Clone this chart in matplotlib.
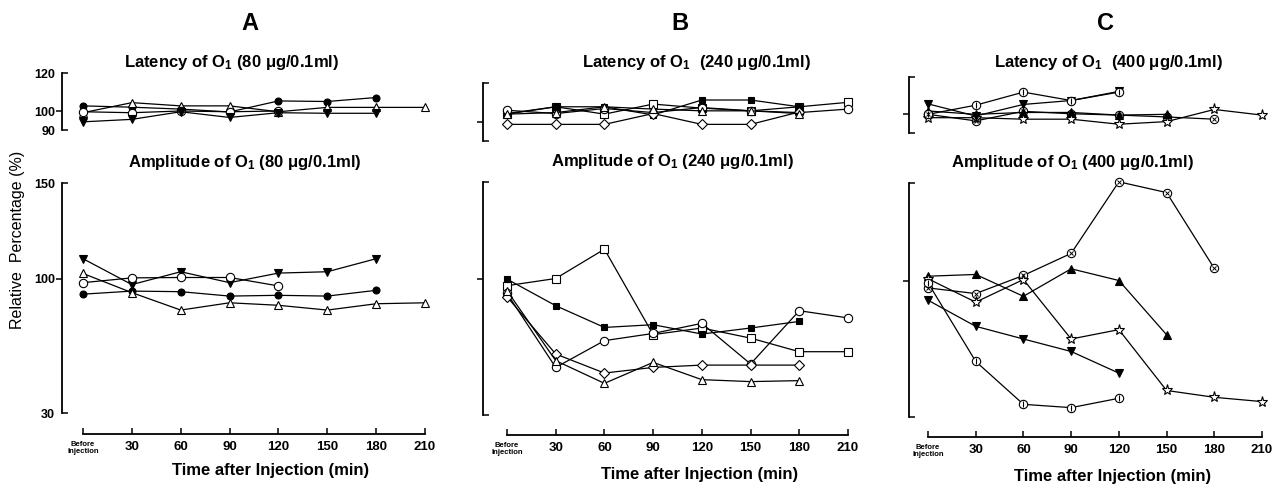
import numpy as np
from matplotlib import pyplot as plt

plt.rcParams['font.family'] = ['Liberation Sans', 'DejaVu Sans']
plt.rcParams['mathtext.fontset'] = 'custom'
plt.rcParams['mathtext.rm'] = 'Liberation Sans:bold'
plt.rcParams['mathtext.default'] = 'rm'

W, H, DPI = 1281, 487, 100

TIMES = [0, 30, 60, 90, 120, 150, 180, 210]
TICK_LABELS = ['Before\nInjection', '30', '60', '90', '120', '150', '180', '210']

# 80 ug/0.1ml
A_LAT_FILLED_CIRCLE = [102.7, 102, 101, 99.5, 105.3, 105, 107.1]
A_LAT_OPEN_TRIANGLE = [99.1, 104.4, 102.7, 102.7, 99.6, 101.9, 101.9, 101.9]
A_LAT_OPEN_CIRCLE = [99.6, 99.1, 100, 99.6, 100]
A_LAT_FILLED_DOWN = [94.3, 95.6, 99.6, 96.6, 99.1, 98.8, 98.8]

A_AMP_FILLED_DOWN = [110.5, 97, 103.7, 98, 103, 103.7, 110.5]
A_AMP_OPEN_CIRCLE = [98, 100.5, 100.7, 100.7, 96.3]
A_AMP_FILLED_CIRCLE = [92, 93.6, 93.3, 91, 91.4, 91, 94]
A_AMP_OPEN_TRIANGLE = [102.8, 92.8, 83.7, 87.5, 86.2, 83.7, 87, 87.5]

# 240 ug/0.1ml
B_LAT_OPEN_SQUARE = [104.2, 107.7, 103.9, 109.1, 107, 105.6, 107.7, 110]
B_LAT_FILLED_SQUARE = [103.9, 107.7, 107.7, 103.5, 111.2, 111.2, 107.7]
B_LAT_OPEN_CIRCLE = [105.9, 104.2, 106.8, 104.7, 107.3, 105.6, 104.7, 106.5]
B_LAT_OPEN_DIAMOND = [98.6, 98.6, 98.6, 104.2, 98.6, 98.6, 105]
B_LAT_OPEN_TRIANGLE = [103.9, 104.7, 107.7, 106.5, 105.6, 105.6, 104.2]

B_AMP_OPEN_SQUARE = [96.6, 100.3, 115.4, 71.4, 74.8, 69.6, 62.6, 62.6]
B_AMP_FILLED_SQUARE = [100, 86.3, 75.1, 76.5, 71.7, 74.8, 78.2]
B_AMP_OPEN_CIRCLE = [92.6, 54.5, 68.3, 72, 77.2, 56.3, 83.7, 80]
B_AMP_OPEN_DIAMOND = [90.9, 61.4, 51.6, 54.5, 55.7, 55.7, 55.7]
B_AMP_OPEN_TRIANGLE = [94, 58, 46.3, 57.1, 48.2, 47.2, 47.7]

# 400 ug/0.1ml
C_LAT_CROSS_CIRCLE = [100, 96.5, 101.6, 100.3, 99.6, 98.6, 97.4]
C_LAT_FILLED_TRIANGLE = [101.8, 100, 101, 101, 99.6, 100]
C_LAT_OPEN_STAR = [98.2, 98.2, 97.4, 97.4, 94.7, 96.1, 102.6, 99.6]
C_LAT_FILLED_DOWN = [105.6, 99.1, 105.3, 107.4, 112.3]
C_LAT_BAR_CIRCLE = [100, 104.9, 111.9, 107.4, 111.9]

C_AMP_CROSS_CIRCLE = [96.2, 93.3, 102.6, 113.9, 150.6, 145.1, 106.2]
C_AMP_FILLED_TRIANGLE = [102.2, 103.1, 91.9, 106, 100, 72.2]
C_AMP_OPEN_STAR = [100.9, 88.9, 100.5, 70, 74.8, 43.6, 40.1, 37.9]
C_AMP_FILLED_DOWN = [89.9, 76.5, 70, 63.6, 52.5]
C_AMP_BAR_CIRCLE = [98.8, 58.5, 36.5, 34.8, 39.6]

STYLES = {
    'filled_circle': dict(marker='o', mfc='black', ms=5),
    'open_circle': dict(marker='o', mfc='white', ms=6),
    'open_triangle': dict(marker='^', mfc='white', ms=5.5),
    'filled_triangle': dict(marker='^', mfc='black', ms=5.5),
    'filled_down': dict(marker='v', mfc='black', ms=5.5),
    'open_square': dict(marker='s', mfc='white', ms=5.5),
    'filled_square': dict(marker='s', mfc='black', ms=5),
    'open_diamond': dict(marker='D', mfc='white', ms=5),
    'open_star': dict(marker='*', mfc='white', ms=8),
    'cross_circle': dict(marker='o', mfc='white', ms=6),
    'bar_circle': dict(marker='o', mfc='white', ms=6),
}


def fig_rect(x0, x1, y_top, y_bottom):
    return [x0 / W, 1 - y_bottom / H, (x1 - x0) / W, (y_bottom - y_top) / H]


def pt(px):
    return px * 72 / DPI


def plot_series(ax, values, kind):
    x = TIMES[:len(values)]
    st = STYLES[kind]
    ax.plot(x, values, color='black', lw=0.9, mec='black', mew=0.8,
            clip_on=False, zorder=3, **st)
    if kind == 'cross_circle':
        ax.plot(x, values, ls='none', marker='x', ms=3.5, mew=0.7,
                color='black', clip_on=False, zorder=4)
    if kind == 'bar_circle':
        ax.plot(x, values, ls='none', marker='|', ms=5, mew=0.8,
                color='black', clip_on=False, zorder=4)


def style_y(ax, lo, hi, spine_px, labels):
    ax.set_ylim(lo, hi)
    for s in ['top', 'right', 'bottom']:
        ax.spines[s].set_visible(False)
    ax.spines['left'].set_position(('outward', pt(spine_px)))
    ax.spines['left'].set_bounds(lo, hi)
    ax.spines['left'].set_linewidth(1.3)
    ax.set_yticks([100])
    ax.set_yticks([lo, hi], minor=True)
    ax.tick_params(axis='y', which='major', direction='out', length=4, width=1.1,
                   labelsize=9, pad=1)
    ax.tick_params(axis='y', which='minor', direction='in', length=4, width=1.1,
                   labelsize=9, pad=5)
    if labels:
        ax.set_yticklabels(['100'], fontweight='bold')
        ax.set_yticklabels([str(lo), str(hi)], minor=True, fontweight='bold')
    else:
        ax.set_yticklabels([])
        ax.set_yticklabels([], minor=True)


def build_panel(fig, x0, x1, spine_x, lat_box, amp_box, axis_y, lat_series,
                amp_series, labels):
    lat = fig.add_axes(fig_rect(x0, x1, lat_box[0], lat_box[1]))
    lat.set_xlim(0, 210)
    lat.set_xticks([])
    style_y(lat, 90, 120, x0 - spine_x, labels)
    for values, kind in lat_series:
        plot_series(lat, values, kind)

    amp = fig.add_axes(fig_rect(x0, x1, amp_box[0], amp_box[1]))
    amp.set_xlim(0, 210)
    style_y(amp, 30, 150, x0 - spine_x, labels)
    amp.spines['bottom'].set_visible(True)
    amp.spines['bottom'].set_position(('outward', pt(axis_y - amp_box[1])))
    amp.spines['bottom'].set_bounds(0, 210)
    amp.spines['bottom'].set_linewidth(1.3)
    amp.set_xticks(TIMES)
    amp.set_xticklabels(TICK_LABELS, fontweight='bold')
    amp.tick_params(axis='x', direction='in', length=4, width=1.1, labelsize=9.5, pad=5)
    first = amp.get_xticklabels()[0]
    first.set_fontsize(5.5)
    first.set_linespacing(1.1)
    for values, kind in amp_series:
        plot_series(amp, values, kind)
    return lat, amp


def build_figure():
    fig = plt.figure(figsize=(W / DPI, H / DPI), dpi=DPI)

    build_panel(fig, 83, 425, 62, (73, 130), (183, 413), 434,
                [(A_LAT_FILLED_CIRCLE, 'filled_circle'),
                 (A_LAT_OPEN_TRIANGLE, 'open_triangle'),
                 (A_LAT_OPEN_CIRCLE, 'open_circle'),
                 (A_LAT_FILLED_DOWN, 'filled_down')],
                [(A_AMP_FILLED_DOWN, 'filled_down'),
                 (A_AMP_OPEN_CIRCLE, 'open_circle'),
                 (A_AMP_FILLED_CIRCLE, 'filled_circle'),
                 (A_AMP_OPEN_TRIANGLE, 'open_triangle')],
                True)

    build_panel(fig, 507, 848, 483, (83, 141), (182, 415), 435,
                [(B_LAT_OPEN_SQUARE, 'open_square'),
                 (B_LAT_FILLED_SQUARE, 'filled_square'),
                 (B_LAT_OPEN_CIRCLE, 'open_circle'),
                 (B_LAT_OPEN_DIAMOND, 'open_diamond'),
                 (B_LAT_OPEN_TRIANGLE, 'open_triangle')],
                [(B_AMP_OPEN_SQUARE, 'open_square'),
                 (B_AMP_FILLED_SQUARE, 'filled_square'),
                 (B_AMP_OPEN_CIRCLE, 'open_circle'),
                 (B_AMP_OPEN_DIAMOND, 'open_diamond'),
                 (B_AMP_OPEN_TRIANGLE, 'open_triangle')],
                False)

    build_panel(fig, 928, 1262, 909, (77, 133), (183, 417), 437,
                [(C_LAT_CROSS_CIRCLE, 'cross_circle'),
                 (C_LAT_FILLED_TRIANGLE, 'filled_triangle'),
                 (C_LAT_OPEN_STAR, 'open_star'),
                 (C_LAT_FILLED_DOWN, 'filled_down'),
                 (C_LAT_BAR_CIRCLE, 'bar_circle')],
                [(C_AMP_CROSS_CIRCLE, 'cross_circle'),
                 (C_AMP_FILLED_TRIANGLE, 'filled_triangle'),
                 (C_AMP_OPEN_STAR, 'open_star'),
                 (C_AMP_FILLED_DOWN, 'filled_down'),
                 (C_AMP_BAR_CIRCLE, 'bar_circle')],
                False)

    def ftext(x, y, s, **kw):
        fig.text(x / W, 1 - y / H, s, ha='center', va='center', **kw)

    # panel letters and titles
    for letter, x in [('A', 250), ('B', 680), ('C', 1105)]:
        ftext(x, 23, letter, fontsize=17, fontweight='bold')
    ftext(232, 62, 'Latency of O$_1$ (80 μg/0.1ml)', fontsize=12, fontweight='bold')
    ftext(245, 163, 'Amplitude of O$_1$ (80 μg/0.1ml)', fontsize=12, fontweight='bold')
    ftext(697, 62, 'Latency of O$_1$  (240 μg/0.1ml)', fontsize=12, fontweight='bold')
    ftext(672, 162, 'Amplitude of O$_1$ (240 μg/0.1ml)', fontsize=12, fontweight='bold')
    ftext(1109, 63, 'Latency of O$_1$  (400 μg/0.1ml)', fontsize=12, fontweight='bold')
    ftext(1072, 163, 'Amplitude of O$_1$ (400 μg/0.1ml)', fontsize=12, fontweight='bold')

    for x, y in [(271, 471), (700, 474), (1113, 476)]:
        ftext(x, y, 'Time after Injection (min)', fontsize=12, fontweight='bold')

    ftext(18, 240, 'Relative  Percentage (%)', fontsize=11.5, rotation=90)

    plt.savefig('out.png', dpi=DPI)


if __name__ == '__main__':
    build_figure()
